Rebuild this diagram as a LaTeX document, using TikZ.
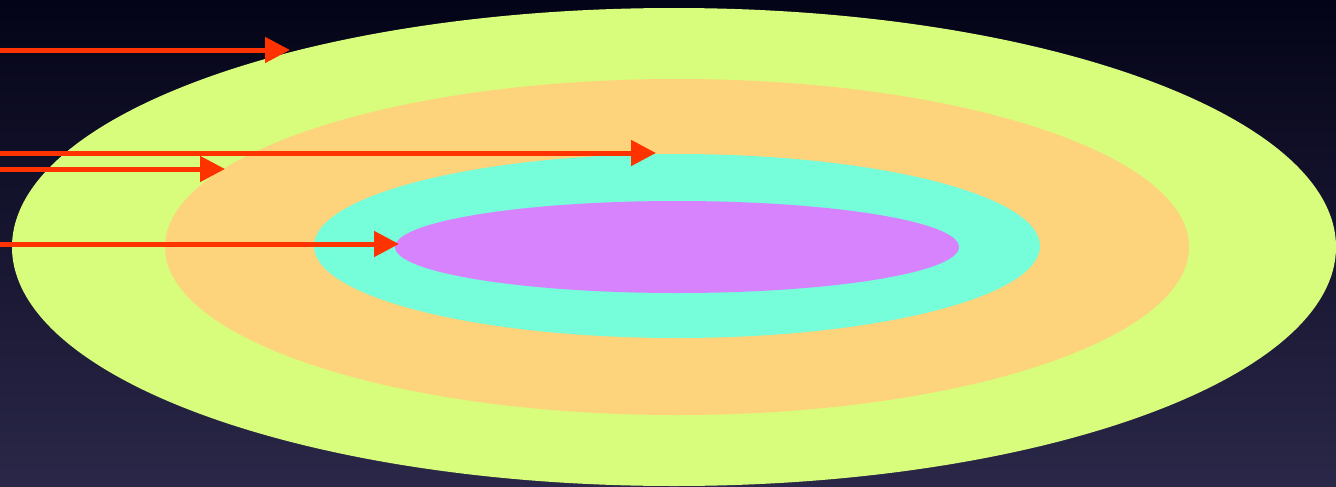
\documentclass[tikz,border=0pt]{standalone}
\usepackage{xcolor}
\usepackage{tikz}
\usetikzlibrary{arrows.meta}
\definecolor{skyTop}{RGB}{4,4,24}
\definecolor{skyBottom}{RGB}{42,39,72}
\definecolor{ringLime}{RGB}{216,252,124}
\definecolor{ringOrange}{RGB}{253,211,123}
\definecolor{ringAqua}{RGB}{118,253,217}
\definecolor{ringViolet}{RGB}{214,131,253}
\definecolor{rayRed}{RGB}{255,51,0}

\begin{document}
\begin{tikzpicture}[x=0.02cm, y=-0.02cm,
    ray/.style={rayRed, line width=0.1cm, -{Triangle[length=0.5cm, width=0.5cm]}}]
\shade[top color=skyTop, bottom color=skyBottom] (0,0) rectangle (1336,487);
\useasboundingbox (0,0) rectangle (1336,487);

% layers
\fill[ringLime]   (674,247) ellipse [x radius=662, y radius=239];
\fill[ringOrange] (677,247) ellipse [x radius=512, y radius=168];
\fill[ringAqua]   (677,246) ellipse [x radius=363, y radius=92];
\fill[ringViolet] (677,247) ellipse [x radius=282, y radius=46];

% rays
\foreach \n/\y/\x in {1/50/290, 2/153/656, 3/169/225, 4/244/399}
{
    \coordinate (start\n) at (0,\y);
    \coordinate (end\n) at (\x,\y);
    \draw[ray] (start\n) -- (end\n);
}
\end{tikzpicture}
\end{document}
